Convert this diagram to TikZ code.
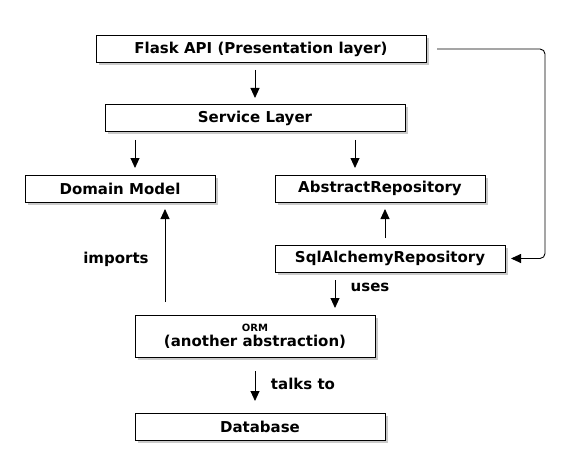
\documentclass[tikz,border=0pt]{standalone}
\usepackage{fontspec}
\setmainfont{DejaVu Sans}
\usetikzlibrary{arrows.meta,shadows}
\begin{document}
\begin{tikzpicture}[x=1pt,y=-1pt,
  box/.style={draw,line width=1pt,fill=white,minimum height=27pt,inner sep=0pt,
    font=\fontsize{15}{17}\selectfont\bfseries,
    drop shadow={shadow xshift=2.5pt,shadow yshift=-2.5pt,opacity=0.35,fill=black!60}},
  arr/.style={-{Triangle[length=10pt,width=9pt]},line width=0.9pt},
  lbl/.style={font=\fontsize{15}{17}\selectfont\bfseries}]
\useasboundingbox (0,0) rectangle (570,476);
\node[box,minimum width=330pt] (flask) at (261,49) {Flask API (Presentation layer)};
\node[box,minimum width=300pt] (service) at (255,118.5) {Service Layer};
\node[box,minimum width=190pt] (domain) at (120,188.5) {Domain Model};
\node[box,minimum width=210pt] (abstract) at (380,188.5) {AbstractRepository};
\node[box,minimum width=230pt] (sql) at (390,258.5) {SqlAlchemyRepository};
\node[box,minimum width=240pt,minimum height=42pt,align=center] (orm) at (255,336)
  {{\fontsize{10}{11}\selectfont ORM}\\[-2pt](another abstraction)};
\node[box,minimum width=250pt] (db) at (260,426.5) {Database};

\coordinate (a1s) at (255,70); \coordinate (a1e) at (255,98);
\draw[arr] (a1s) -- (a1e);
\coordinate (a2s) at (135,140); \coordinate (a2e) at (135,168);
\draw[arr] (a2s) -- (a2e);
\coordinate (a3s) at (355,140); \coordinate (a3e) at (355,168);
\draw[arr] (a3s) -- (a3e);
\coordinate (a4s) at (385,238); \coordinate (a4e) at (385,209);
\draw[arr] (a4s) -- (a4e);
\coordinate (a5s) at (165,302); \coordinate (a5e) at (165,209);
\draw[arr] (a5s) -- (a5e);
\coordinate (a6s) at (335,280); \coordinate (a6e) at (335,308);
\draw[arr] (a6s) -- (a6e);
\coordinate (a7s) at (255,371); \coordinate (a7e) at (255,401);
\draw[arr] (a7s) -- (a7e);
\coordinate (a8s) at (437,49); \coordinate (a8e) at (511,258.5);
\draw[arr,rounded corners=5pt] (a8s) -- (545,49) -- (545,258.5) -- (a8e);

\node[lbl] (imports) at (116,259) {imports};
\node[lbl] (uses) at (370,287) {uses};
\node[lbl] (talks) at (303,384) {talks to};
\end{tikzpicture}
\end{document}
